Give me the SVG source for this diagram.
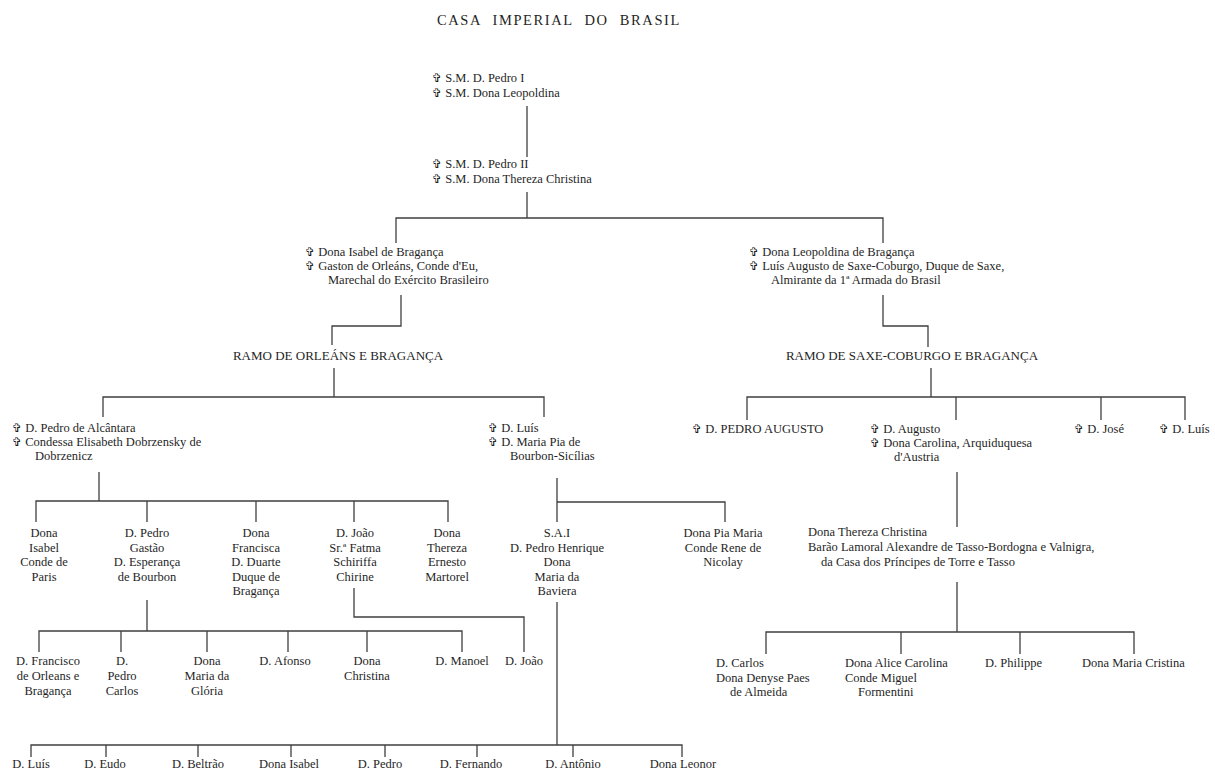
<svg xmlns="http://www.w3.org/2000/svg" width="1215" height="771" viewBox="0 0 1215 771">
<style>
text{font-family:"Liberation Serif","Times New Roman",serif;font-size:12.5px;fill:#1f1f1f}
.c{font-family:"DejaVu Sans",sans-serif;font-size:12px}
.m{text-anchor:middle}
.t{font-size:14.5px;letter-spacing:1.6px;word-spacing:6px}
.r{font-size:13px;text-anchor:middle}
.ln{fill:none;stroke:#3f3f3f;stroke-width:1.3}
</style>
<rect width="1215" height="771" fill="#fff"/>
<text class="t" x="437" y="25">CASA IMPERIAL DO BRASIL</text>

<g id="connectors" class="ln">
<path d="M527 106V157"/>
<path d="M527 192V218M396 243V218H883V243"/>
<path d="M401 295V326H332V345"/>
<path d="M883 295V326H928V347"/>
<path d="M334 368V397M103 417V397H544V417"/>
<path d="M931 368V397M747 420V397H1185V420M956 397V420M1101 397V420"/>
<path d="M99 472V501M36 522V501H448V522M147 501V522M256 501V522M354 501V522"/>
<path d="M557 478V522M557 502H725V522"/>
<path d="M147 600V631M39 652V631H462V652M121 631V652M207 631V652M288 631V652M367 631V652"/>
<path d="M354 588V617H524V652"/>
<path d="M557 602V745M31 757V745H682V757M106 745V757M198 745V757M291 745V757M385 745V757M477 745V757M573 745V757"/>
<path d="M957 472V527"/>
<path d="M957 582V632M766 654V632H1134V654M901 632V654M1020 632V654"/>
</g>

<g id="n-pedro1">
<text x="432" y="82"><tspan class="c">✞</tspan> S.M. D. Pedro I</text>
<text x="432" y="97"><tspan class="c">✞</tspan> S.M. Dona Leopoldina</text>
</g>
<g id="n-pedro2">
<text x="432" y="168"><tspan class="c">✞</tspan> S.M. D. Pedro II</text>
<text x="432" y="183"><tspan class="c">✞</tspan> S.M. Dona Thereza Christina</text>
</g>
<g id="n-isabel">
<text x="305" y="256"><tspan class="c">✞</tspan> Dona Isabel de Bragança</text>
<text x="305" y="270"><tspan class="c">✞</tspan> Gaston de Orleáns, Conde d'Eu,</text>
<text x="328" y="284">Marechal do Exército Brasileiro</text>
</g>
<g id="n-leopoldina">
<text x="749" y="256"><tspan class="c">✞</tspan> Dona Leopoldina de Bragança</text>
<text x="749" y="270"><tspan class="c">✞</tspan> Luís Augusto de Saxe-Coburgo, Duque de Saxe,</text>
<text x="771" y="284">Almirante da 1ª Armada do Brasil</text>
</g>
<g id="n-ramo-orleans"><text class="r" x="338" y="360">RAMO DE ORLEÁNS E BRAGANÇA</text></g>
<g id="n-ramo-saxe"><text class="r" x="912" y="360">RAMO DE SAXE-COBURGO E BRAGANÇA</text></g>

<g id="n-pedro-alcantara">
<text x="12" y="432"><tspan class="c">✞</tspan> D. Pedro de Alcântara</text>
<text x="12" y="446"><tspan class="c">✞</tspan> Condessa Elisabeth Dobrzensky de</text>
<text x="35" y="460">Dobrzenicz</text>
</g>
<g id="n-luis">
<text x="488" y="432"><tspan class="c">✞</tspan> D. Luís</text>
<text x="488" y="446"><tspan class="c">✞</tspan> D. Maria Pia de</text>
<text x="510" y="460">Bourbon-Sicílias</text>
</g>
<g id="n-pedro-augusto"><text x="692" y="433"><tspan class="c">✞</tspan> D. PEDRO AUGUSTO</text></g>
<g id="n-augusto">
<text x="870" y="433"><tspan class="c">✞</tspan> D. Augusto</text>
<text x="870" y="447"><tspan class="c">✞</tspan> Dona Carolina, Arquiduquesa</text>
<text x="894" y="461">d'Austria</text>
</g>
<g id="n-jose"><text x="1074" y="433"><tspan class="c">✞</tspan> D. José</text></g>
<g id="n-luis2"><text x="1159" y="433"><tspan class="c">✞</tspan> D. Luís</text></g>

<g id="n-dona-isabel">
<text class="m" x="44" y="537">Dona</text><text class="m" x="44" y="551.5">Isabel</text><text class="m" x="44" y="566">Conde de</text><text class="m" x="44" y="580.5">Paris</text>
</g>
<g id="n-pedro-gastao">
<text class="m" x="147" y="537">D. Pedro</text><text class="m" x="147" y="551.5">Gastão</text><text class="m" x="147" y="566">D. Esperança</text><text class="m" x="147" y="580.5">de Bourbon</text>
</g>
<g id="n-francisca">
<text class="m" x="256" y="537">Dona</text><text class="m" x="256" y="551.5">Francisca</text><text class="m" x="256" y="566">D. Duarte</text><text class="m" x="256" y="580.5">Duque de</text><text class="m" x="256" y="595">Bragança</text>
</g>
<g id="n-joao">
<text class="m" x="355" y="537">D. João</text><text class="m" x="355" y="551.5">Sr.ª Fatma</text><text class="m" x="355" y="566">Schiriffa</text><text class="m" x="355" y="580.5">Chirine</text>
</g>
<g id="n-thereza">
<text class="m" x="447" y="537">Dona</text><text class="m" x="447" y="551.5">Thereza</text><text class="m" x="447" y="566">Ernesto</text><text class="m" x="447" y="580.5">Martorel</text>
</g>
<g id="n-sai">
<text class="m" x="557" y="537">S.A.I</text><text class="m" x="557" y="551.5">D. Pedro Henrique</text><text class="m" x="557" y="566">Dona</text><text class="m" x="557" y="580.5">Maria da</text><text class="m" x="557" y="595">Baviera</text>
</g>
<g id="n-pia-maria">
<text class="m" x="723" y="537">Dona Pia Maria</text><text class="m" x="723" y="551.5">Conde Rene de</text><text class="m" x="723" y="566">Nicolay</text>
</g>
<g id="n-thereza-christina">
<text x="808" y="536">Dona Thereza Christina</text>
<text x="808" y="551">Barão Lamoral Alexandre de Tasso-Bordogna e Valnigra,</text>
<text x="821" y="566">da Casa dos Príncipes de Torre e Tasso</text>
</g>

<g id="n-francisco">
<text class="m" x="48" y="665">D. Francisco</text><text class="m" x="48" y="680">de Orleans e</text><text class="m" x="48" y="694.5">Bragança</text>
</g>
<g id="n-pedro-carlos">
<text class="m" x="122" y="665">D.</text><text class="m" x="122" y="680">Pedro</text><text class="m" x="122" y="694.5">Carlos</text>
</g>
<g id="n-maria-gloria">
<text class="m" x="207" y="665">Dona</text><text class="m" x="207" y="680">Maria da</text><text class="m" x="207" y="694.5">Glória</text>
</g>
<g id="n-afonso"><text class="m" x="285" y="665">D. Afonso</text></g>
<g id="n-christina">
<text class="m" x="367" y="665">Dona</text><text class="m" x="367" y="680">Christina</text>
</g>
<g id="n-manoel"><text class="m" x="462" y="665">D. Manoel</text></g>
<g id="n-joao2"><text class="m" x="524" y="665">D. João</text></g>

<g id="n-carlos">
<text x="716" y="667">D. Carlos</text>
<text x="716" y="681.5">Dona Denyse Paes</text>
<text x="730" y="696">de Almeida</text>
</g>
<g id="n-alice">
<text x="845" y="667">Dona Alice Carolina</text>
<text x="845" y="681.5">Conde Miguel</text>
<text x="858" y="696">Formentini</text>
</g>
<g id="n-philippe"><text x="985" y="667">D. Philippe</text></g>
<g id="n-maria-cristina"><text x="1082" y="667">Dona Maria Cristina</text></g>

<g id="n-luis3"><text class="m" x="31" y="768">D. Luís</text></g>
<g id="n-eudo"><text class="m" x="105" y="768">D. Eudo</text></g>
<g id="n-beltrao"><text class="m" x="198" y="768">D. Beltrão</text></g>
<g id="n-isabel3"><text class="m" x="289" y="768">Dona Isabel</text></g>
<g id="n-pedro3"><text class="m" x="380" y="768">D. Pedro</text></g>
<g id="n-fernando"><text class="m" x="471" y="768">D. Fernando</text></g>
<g id="n-antonio"><text class="m" x="573" y="768">D. Antônio</text></g>
<g id="n-leonor"><text class="m" x="683" y="768">Dona Leonor</text></g>
</svg>
